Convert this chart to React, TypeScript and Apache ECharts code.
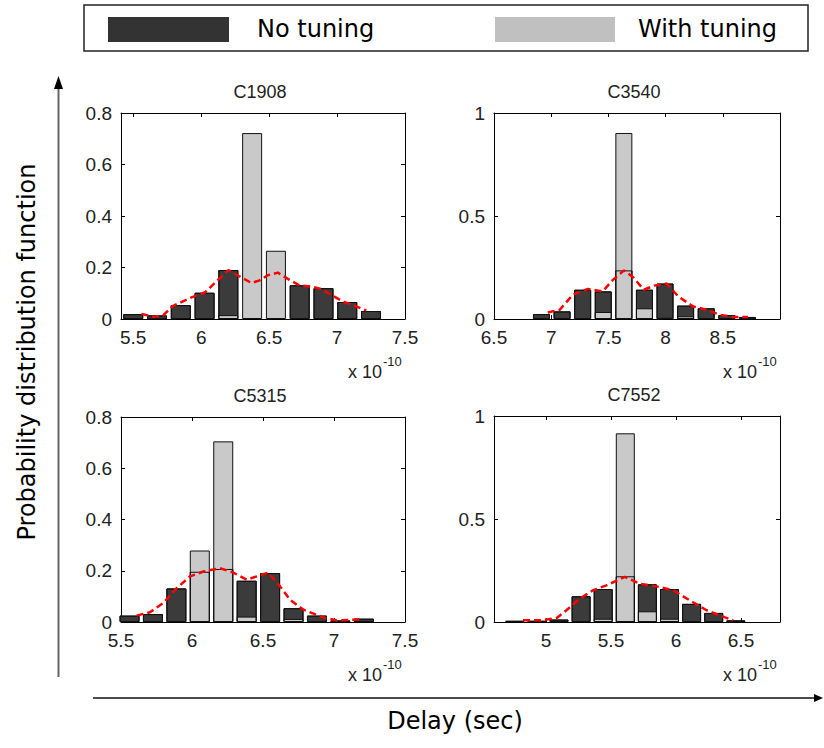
import React, { useEffect, useRef } from "react";
import * as echarts from "echarts";

// ---------- data ----------
const legendLabels = ["No tuning", "With tuning"];
const axisTitleX = "Delay (sec)";
const axisTitleY = "Probability distribution function";
const circuitNames = ["C1908", "C3540", "C5315", "C7552"];

const c1908Bins = [5.5, 5.675, 5.85, 6.025, 6.2, 6.375, 6.55, 6.725, 6.9, 7.075, 7.25];
const c1908NoTuning = [0.019, 0.014, 0.054, 0.102, 0.19, 0, 0, 0.131, 0.12, 0.066, 0.031];
const c1908WithTuning = [0, 0, 0, 0, 0.015, 0.722, 0.265, 0, 0, 0, 0];
const c1908Fit = [
  [5.56, 0.02], [5.65, 0.008], [5.72, 0.014], [5.79, 0.05], [5.92, 0.082], [6.03, 0.104],
  [6.12, 0.15], [6.2, 0.19], [6.28, 0.166], [6.37, 0.14], [6.43, 0.15], [6.49, 0.17],
  [6.565, 0.18], [6.6, 0.168], [6.65, 0.152], [6.725, 0.13], [6.81, 0.126], [6.884, 0.116],
  [6.957, 0.094], [7.043, 0.068], [7.141, 0.049], [7.215, 0.033],
];

const c3540Bins = [6.915, 7.095, 7.275, 7.455, 7.635, 7.815, 7.995, 8.175, 8.355, 8.535, 8.715];
const c3540NoTuning = [0.024, 0.037, 0.142, 0.134, 0.236, 0.142, 0.172, 0.065, 0.052, 0.019, 0.01];
const c3540WithTuning = [0, 0, 0, 0.034, 0.903, 0.052, 0.006, 0.013, 0, 0, 0];
const c3540Fit = [
  [6.97, 0.032], [7.075, 0.045], [7.19, 0.118], [7.32, 0.146], [7.45, 0.134], [7.54, 0.19],
  [7.637, 0.236], [7.72, 0.2], [7.81, 0.142], [7.9, 0.162], [8.01, 0.172], [8.11, 0.11],
  [8.24, 0.061], [8.36, 0.045], [8.47, 0.021], [8.59, 0.01], [8.72, 0.01],
];

const c5315Bins = [5.56, 5.725, 5.89, 6.055, 6.22, 6.385, 6.55, 6.715, 6.88, 7.045, 7.21];
const c5315NoTuning = [0.025, 0.031, 0.131, 0.196, 0.207, 0.161, 0.191, 0.054, 0.025, 0.006, 0.013];
const c5315WithTuning = [0, 0, 0, 0.279, 0.705, 0.021, 0, 0.012, 0, 0, 0];
const c5315Fit = [
  [5.61, 0.025], [5.704, 0.038], [5.798, 0.074], [5.892, 0.132], [5.986, 0.178], [6.08, 0.197],
  [6.197, 0.21], [6.29, 0.193], [6.385, 0.165], [6.456, 0.178], [6.537, 0.193], [6.62, 0.139],
  [6.69, 0.087], [6.784, 0.048], [6.925, 0.018], [7.019, 0.006], [7.136, 0.009], [7.206, 0.012],
];

const c7552Bins = [4.76, 4.93, 5.1, 5.27, 5.44, 5.61, 5.78, 5.95, 6.12, 6.29, 6.46];
const c7552NoTuning = [0.006, 0.006, 0.012, 0.125, 0.16, 0.222, 0.183, 0.16, 0.088, 0.044, 0.008];
const c7552WithTuning = [0, 0, 0, 0, 0.016, 0.916, 0.052, 0.016, 0, 0, 0];
const c7552Fit = [
  [4.823, 0.008], [4.95, 0.008], [5.08, 0.018], [5.157, 0.057], [5.26, 0.113], [5.362, 0.154],
  [5.465, 0.178], [5.606, 0.219], [5.72, 0.186], [5.85, 0.173], [5.978, 0.154], [6.106, 0.105],
  [6.235, 0.057], [6.337, 0.032], [6.44, 0.008],
];

// ---------- styling ----------
const DARK = "#3b3b3b";
const LIGHT = "#c9c9c9";
const EDGE = "#111111";
const RED = "#ff0000";
const TICK_FONT = "'Liberation Sans', Arial, sans-serif";
const LABEL_FONT = "'DejaVu Sans', Verdana, sans-serif";

const panels = [
  { name: circuitNames[0], bins: c1908Bins, dark: c1908NoTuning, light: c1908WithTuning, fit: c1908Fit,
    xMin: 5.41, xMax: 7.5, yMax: 0.8, yStep: 0.2, hideMin: true, hideMax: false,
    grid: { left: 121, top: 113, width: 284, height: 206 } },
  { name: circuitNames[1], bins: c3540Bins, dark: c3540NoTuning, light: c3540WithTuning, fit: c3540Fit,
    xMin: 6.5, xMax: 9.0, yMax: 1, yStep: 0.5, hideMin: false, hideMax: true,
    grid: { left: 494, top: 113, width: 286, height: 206 } },
  { name: circuitNames[2], bins: c5315Bins, dark: c5315NoTuning, light: c5315WithTuning, fit: c5315Fit,
    xMin: 5.5, xMax: 7.5, yMax: 0.8, yStep: 0.2, hideMin: false, hideMax: false,
    grid: { left: 121, top: 417, width: 284, height: 205 } },
  { name: circuitNames[3], bins: c7552Bins, dark: c7552NoTuning, light: c7552WithTuning, fit: c7552Fit,
    xMin: 4.6, xMax: 6.8, yMax: 1, yStep: 0.5, hideMin: true, hideMax: true,
    grid: { left: 494, top: 416, width: 286, height: 206 } },
];

function buildOption() {
  const grid: any[] = [];
  const xAxis: any[] = [];
  const yAxis: any[] = [];
  const series: any[] = [];
  const graphic: any[] = [];

  panels.forEach((p, i) => {
    grid.push({ ...p.grid, containLabel: false });
    const baseX = {
      gridIndex: i, type: "value", min: p.xMin, max: p.xMax,
      minInterval: 0.5, maxInterval: 0.5, splitLine: { show: false },
      axisLine: { show: true, onZero: false, lineStyle: { color: "#000", width: 1 } },
      axisTick: { show: true, inside: true, length: 4, lineStyle: { color: "#000" } },
    };
    xAxis.push({
      ...baseX, position: "bottom",
      axisLabel: { show: true, fontSize: 19, lineHeight: 16, fontFamily: TICK_FONT, color: "#222", margin: 10,
        showMinLabel: !p.hideMin, showMaxLabel: !p.hideMax },
    });
    xAxis.push({ ...baseX, position: "top", axisLabel: { show: false } });
    const baseY = {
      gridIndex: i, type: "value", min: 0, max: p.yMax, interval: p.yStep,
      splitLine: { show: false },
      axisLine: { show: true, onZero: false, lineStyle: { color: "#000", width: 1 } },
      axisTick: { show: true, inside: true, length: 4, lineStyle: { color: "#000" } },
    };
    yAxis.push({
      ...baseY, position: "left",
      axisLabel: { show: true, fontSize: 19, lineHeight: 14, fontFamily: TICK_FONT, color: "#222", margin: 9 },
    });
    yAxis.push({ ...baseY, position: "right", axisLabel: { show: false } });

    const xi = i * 2;
    const yi = i * 2;
    const step = p.bins[1] - p.bins[0];
    const pxPerUnit = p.grid.width / (p.xMax - p.xMin);
    const bw = Math.round(step * pxPerUnit * 0.84);

    const darkData = p.bins.map((b, k) => [b, p.dark[k]]).filter((d) => d[1] > 0);
    const lightData = p.bins.map((b, k) => [b, p.light[k]]).filter((d) => d[1] > 0);

    series.push({
      type: "bar", name: legendLabels[0], xAxisIndex: xi, yAxisIndex: yi, data: darkData,
      barWidth: bw, barGap: "-100%", z: 2,
      itemStyle: { color: DARK, borderColor: EDGE, borderWidth: 1 },
    });
    series.push({
      type: "bar", name: legendLabels[1], xAxisIndex: xi, yAxisIndex: yi, data: lightData,
      barWidth: bw, barGap: "-100%", z: 3,
      itemStyle: { color: LIGHT, borderColor: EDGE, borderWidth: 1 },
    });
    series.push({
      type: "bar", name: "edge", xAxisIndex: xi, yAxisIndex: yi, data: darkData,
      barWidth: bw, barGap: "-100%", z: 4, silent: true,
      itemStyle: { color: "rgba(0,0,0,0)", borderColor: EDGE, borderWidth: 1 },
    });
    series.push({
      type: "line", name: "fit", xAxisIndex: xi, yAxisIndex: yi, data: p.fit, z: 5,
      showSymbol: false, symbol: "none", smooth: false,
      lineStyle: { color: RED, width: 2.5, type: [7, 4] },
    });

    const right = p.grid.left + p.grid.width;
    const bottom = p.grid.top + p.grid.height;
    graphic.push({
      type: "text", x: p.grid.left + p.grid.width / 2 - 3, y: p.grid.top - 21,
      style: { text: p.name, fontSize: 18, fontFamily: TICK_FONT, fill: "#222", align: "center", verticalAlign: "middle" },
    });
    graphic.push({
      type: "text", x: right - 57, y: bottom + 53,
      style: { text: "x 10", fontSize: 18, fontFamily: TICK_FONT, fill: "#222", align: "left", verticalAlign: "middle" },
    });
    graphic.push({
      type: "text", x: right - 22, y: bottom + 42,
      style: { text: "-10", fontSize: 13, fontFamily: TICK_FONT, fill: "#222", align: "left", verticalAlign: "middle" },
    });
  });

  // legend box
  graphic.push({
    type: "rect", shape: { x: 84, y: 5, width: 724, height: 46 },
    style: { fill: "#fff", stroke: "#222", lineWidth: 1.5 }, z: 1,
  });
  graphic.push({ type: "rect", shape: { x: 108, y: 17, width: 121, height: 25 }, style: { fill: "#333333" }, z: 2 });
  graphic.push({ type: "rect", shape: { x: 495, y: 17, width: 120, height: 25 }, style: { fill: "#c0c0c0" }, z: 2 });
  graphic.push({
    type: "text", x: 257, y: 29, z: 2,
    style: { text: legendLabels[0], fontSize: 24, fontFamily: LABEL_FONT, fill: "#000", align: "left", verticalAlign: "middle" },
  });
  graphic.push({
    type: "text", x: 638, y: 29, z: 2,
    style: { text: legendLabels[1], fontSize: 24, fontFamily: LABEL_FONT, fill: "#000", align: "left", verticalAlign: "middle" },
  });

  // axis arrows
  graphic.push({ type: "line", shape: { x1: 58.5, y1: 84, x2: 58.5, y2: 677 }, style: { stroke: "#666", lineWidth: 2 } });
  graphic.push({ type: "polygon", shape: { points: [[58.5, 76], [54, 89], [63, 89]] }, style: { fill: "#000" } });
  graphic.push({ type: "line", shape: { x1: 93, y1: 698, x2: 817, y2: 698 }, style: { stroke: "#111", lineWidth: 1.5 } });
  graphic.push({ type: "polygon", shape: { points: [[823, 698], [814, 694], [814, 702]] }, style: { fill: "#000" } });

  graphic.push({
    type: "text", x: 455, y: 721,
    style: { text: axisTitleX, fontSize: 24, fontFamily: LABEL_FONT, fill: "#000", align: "center", verticalAlign: "middle" },
  });
  graphic.push({
    type: "text", x: 27, y: 352, rotation: Math.PI / 2,
    style: { text: axisTitleY, fontSize: 24, fontFamily: LABEL_FONT, fill: "#000", align: "center", verticalAlign: "middle" },
  });

  return {
    animation: false,
    backgroundColor: "#ffffff",
    grid, xAxis, yAxis, series, graphic,
  };
}

export default function App() {
  const ref = useRef<HTMLDivElement>(null);
  useEffect(() => {
    if (!ref.current) return;
    const chart = echarts.init(ref.current, null, { renderer: "svg" });
    chart.setOption(buildOption() as any);
    return () => chart.dispose();
  }, []);
  return (
    <div
      ref={ref}
      style={{ position: "absolute", left: 0, top: 0, width: 824, height: 748, background: "#fff" }}
    />
  );
}
